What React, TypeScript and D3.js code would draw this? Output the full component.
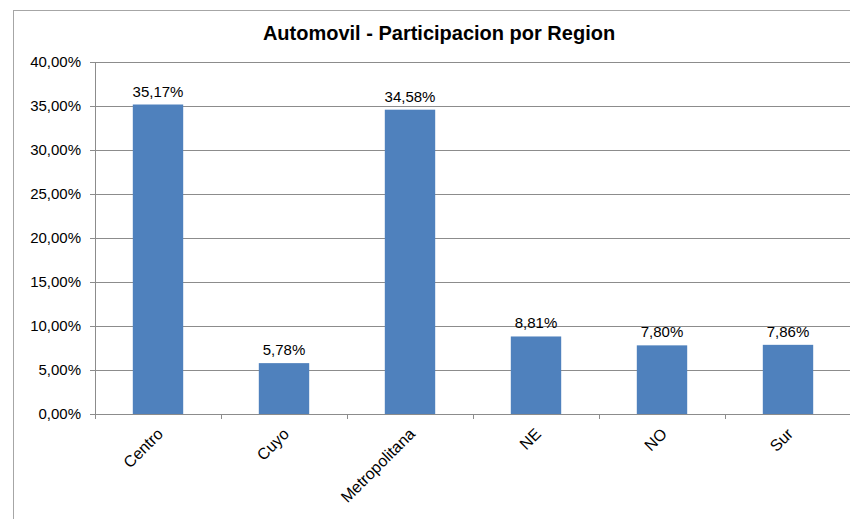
import React from "react";
import * as d3 from "d3";

const regions = ["Centro", "Cuyo", "Metropolitana", "NE", "NO", "Sur"];
const shares = [35.17, 5.78, 34.58, 8.81, 7.8, 7.86];
const yTicks = [0, 5, 10, 15, 20, 25, 30, 35, 40];

const fmt = (v: number) => v.toFixed(2).replace(".", ",") + "%";

const App = () => {
  const svgRef = React.useRef<SVGSVGElement>(null);
  const width = 850;
  const height = 519;
  const plot = { left: 95, top: 62, right: 851, bottom: 414 };

  React.useEffect(() => {
    const svg = d3.select(svgRef.current);
    svg.selectAll("*").remove();
    const font = "'Liberation Sans', Arial, sans-serif";

    // outer chart frame
    svg
      .append("rect")
      .attr("x", 13.5)
      .attr("y", 10.5)
      .attr("width", 860)
      .attr("height", 540)
      .style("fill", "white")
      .style("stroke", "#a6a6a6")
      .style("stroke-width", 1);

    svg
      .append("text")
      .attr("x", 439)
      .attr("y", 40)
      .attr("text-anchor", "middle")
      .style("font-family", font)
      .style("font-weight", "bold")
      .style("font-size", "20px")
      .text("Automovil - Participacion por Region");

    const x = d3
      .scaleBand()
      .domain(regions)
      .range([plot.left, plot.right])
      .paddingInner(0.6)
      .paddingOuter(0.3);
    const y = d3.scaleLinear().domain([0, 40]).range([plot.bottom, plot.top]);

    // gridlines
    svg
      .selectAll("grid")
      .data(yTicks)
      .enter()
      .append("line")
      .attr("x1", plot.left - 5)
      .attr("x2", plot.right)
      .attr("y1", (d) => Math.round(y(d)) + 0.5)
      .attr("y2", (d) => Math.round(y(d)) + 0.5)
      .style("stroke", "#8c8c8c")
      .style("stroke-width", 1);

    // y tick labels
    svg
      .selectAll("ylab")
      .data(yTicks)
      .enter()
      .append("text")
      .attr("x", plot.left - 14)
      .attr("y", (d) => y(d) + 5)
      .attr("text-anchor", "end")
      .style("font-family", font)
      .style("font-size", "15px")
      .text((d) => fmt(d));

    // y axis line
    svg
      .append("line")
      .attr("x1", plot.left + 0.5)
      .attr("x2", plot.left + 0.5)
      .attr("y1", plot.top)
      .attr("y2", plot.bottom + 5)
      .style("stroke", "#8c8c8c");

    // category ticks
    const step = x.step();
    svg
      .selectAll("xtick")
      .data(regions)
      .enter()
      .append("line")
      .attr("x1", (_, i) => Math.round(plot.left + step * i) + 0.5)
      .attr("x2", (_, i) => Math.round(plot.left + step * i) + 0.5)
      .attr("y1", plot.bottom)
      .attr("y2", plot.bottom + 5)
      .style("stroke", "#8c8c8c");

    // bars
    svg
      .selectAll("bars")
      .data(shares)
      .enter()
      .append("rect")
      .attr("x", (_, i) => x(regions[i])!)
      .attr("y", (d) => y(d))
      .attr("width", x.bandwidth())
      .attr("height", (d) => plot.bottom - y(d))
      .style("fill", "#4f81bd");

    // data labels
    svg
      .selectAll("vals")
      .data(shares)
      .enter()
      .append("text")
      .attr("x", (_, i) => x(regions[i])! + x.bandwidth() / 2)
      .attr("y", (d) => y(d) - 8)
      .attr("text-anchor", "middle")
      .style("font-family", font)
      .style("font-size", "15px")
      .text((d) => fmt(d));

    // rotated category labels
    svg
      .selectAll("xlab")
      .data(regions)
      .enter()
      .append("text")
      .attr("transform", (d) => {
        const cx = x(d)! + x.bandwidth() / 2 + 6;
        return `translate(${cx},${plot.bottom + 21}) rotate(-45)`;
      })
      .attr("text-anchor", "end")
      .style("font-family", font)
      .style("font-size", "16px")
      .text((d) => d);
  }, []);

  return (
    <svg
      ref={svgRef}
      width={width}
      height={height}
      style={{ position: "absolute", left: 0, top: 0, background: "white" }}
    />
  );
};

export default App;
